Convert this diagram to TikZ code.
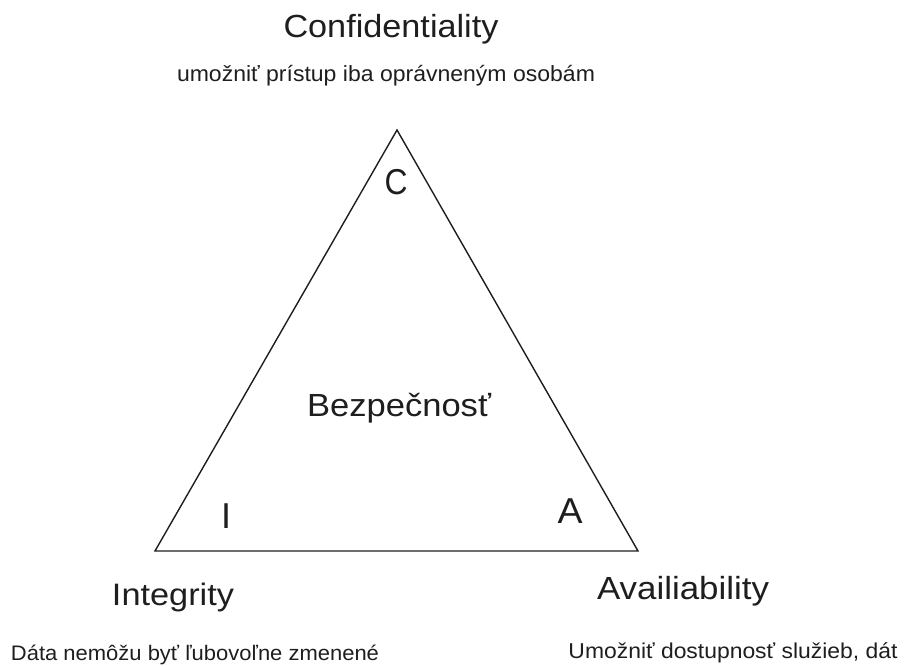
\documentclass[tikz,border=0pt]{standalone}
\usepackage{fontspec}
\usepackage{graphicx}
\setmainfont{Liberation Sans}
% text set at a given size and stretched to a given width
\newcommand\fitlabel[3]{\resizebox{#1}{\height}{\fontsize{#2}{#2}\selectfont #3}}
\definecolor{ink}{HTML}{1E1E1E}
\tikzset{
  lbl/.style={inner sep=0pt, anchor=base, text=ink},
  edge/.style={draw=ink, line width=1.4pt, line join=miter}
}
\begin{document}
\begin{tikzpicture}[x=1pt,y=-1pt]
  \useasboundingbox (0,0) rectangle (907,666);
  % triangle corners
  \coordinate (top) at (397,130);
  \coordinate (bl) at (155,551);
  \coordinate (br) at (638,551);
  \draw[edge] (top) -- (bl) -- (br) -- cycle;
  % corner letters and centre label
  \node[lbl] (cC) at (396,194) {\fitlabel{23pt}{36}{C}};
  \node[lbl] (iI) at (226,528) {\fontsize{36}{36}\selectfont I};
  \node[lbl] (aA) at (570,523) {\fitlabel{25pt}{36}{A}};
  \node[lbl] (core) at (399,416) {\fitlabel{184pt}{32}{Bezpečnosť}};
  % the three properties and their notes
  \node[lbl] (conf) at (391,38) {\fitlabel{215pt}{32}{Confidentiality}};
  \node[lbl] (confnote) at (386,82) {\fitlabel{418pt}{22}{umožniť prístup iba oprávneným osobám}};
  \node[lbl] (integ) at (173,605) {\fitlabel{122pt}{31}{Integrity}};
  \node[lbl] (integnote) at (195,660) {\fitlabel{368pt}{21}{Dáta nemôžu byť ľubovoľne zmenené}};
  \node[lbl] (avail) at (683,599) {\fitlabel{172pt}{32}{Availiability}};
  \node[lbl] (availnote) at (733,658) {\fitlabel{329pt}{21.5}{Umožniť dostupnosť služieb, dát}};
\end{tikzpicture}
\end{document}
